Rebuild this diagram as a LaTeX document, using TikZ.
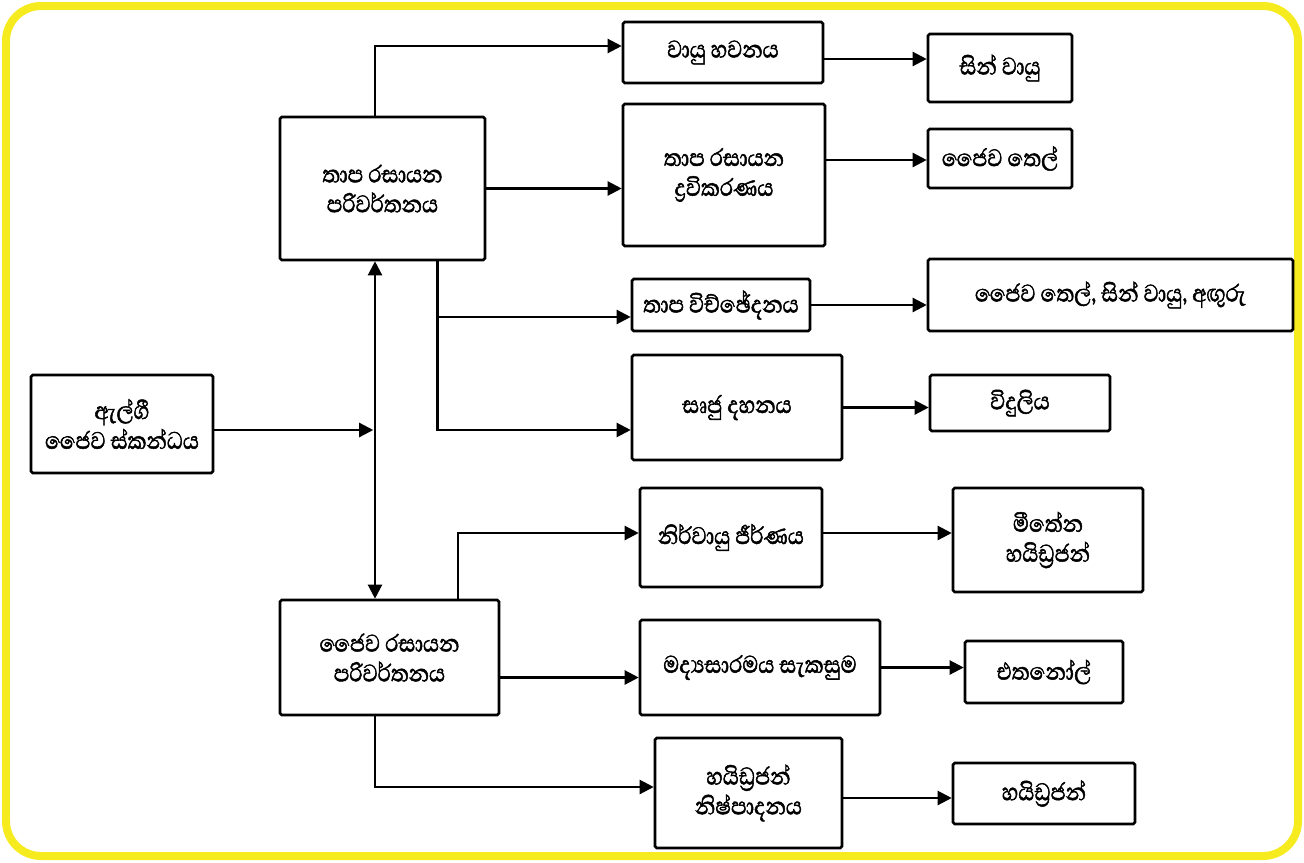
\documentclass[tikz,border=0pt]{standalone}
\usepackage{fontspec}
\usepackage{tikz}
\usetikzlibrary{calc,arrows.meta,positioning}
\newfontfamily\sinhala[Script=Sinhala, FakeBold=1.6, FakeStretch=0.86]{Abhaya Libre}
\definecolor{hl-yellow}{HTML}{F5EB1E}

\begin{document}
\begin{tikzpicture}[x=0.02cm, y=-0.02cm, line width=1.3pt, >={Triangle[length=8pt,width=8pt]},
    box/.style={draw, rectangle, line width=1.5pt, rounded corners=1pt, align=center, inner sep=2pt,
                font=\sinhala\fontsize{17.5}{17}\selectfont}]
    \useasboundingbox (0,0) rectangle (1304,862);
    \draw[hl-yellow, line width=0.16cm, rounded corners=0.7cm, fill=white] (6,6) rectangle (1298,856);

    \node[box, minimum width=3.64cm, minimum height=1.96cm] (algae) at (122,424) {ඇල්ගී\\ජෛව ස්කන්ධය};
    \node[box, minimum width=4.10cm, minimum height=2.86cm] (thermo) at (382.5,188.5) {තාප රසායන\\පරිවර්තනය};
    \node[box, minimum width=4.38cm, minimum height=2.30cm] (bio) at (389.5,657.5) {ජෛව රසායන\\පරිවර්තනය};

    \node[box, minimum width=4.00cm, minimum height=1.22cm] (gasif) at (723,52.5) {වායු හවනය};
    \node[box, minimum width=4.04cm, minimum height=2.84cm] (liquef) at (724,175) {තාප රසායන\\ද්‍රවිකරණය};
    \node[box, minimum width=3.56cm, minimum height=1.04cm] (pyro) at (721,305) {තාප විච්ඡේදනය};
    \node[box, minimum width=4.20cm, minimum height=2.10cm] (direct) at (737,407.5) {සෘජු දහනය};
    \node[box, minimum width=3.64cm, minimum height=1.98cm] (anaer) at (731,537.5) {නිර්වායු ජීර්ණය};
    \node[box, minimum width=4.80cm, minimum height=1.90cm] (ferm) at (760,667.5) {මද්‍යසාරමය සැකසුම};
    \node[box, minimum width=3.74cm, minimum height=2.20cm] (hprod) at (748.5,793) {හයිඩ්‍රජන්\\නිෂ්පාදනය};

    \node[box, minimum width=2.88cm, minimum height=1.36cm] (syngas) at (1000,68) {සින් වායු};
    \node[box, minimum width=2.88cm, minimum height=1.18cm] (biooil) at (1000,158.5) {ජෛව තෙල්};
    \node[box, minimum width=7.30cm, minimum height=1.44cm] (mixprod) at (1110.5,295) {ජෛව තෙල්, සින් වායු, අඟුරු};
    \node[box, minimum width=3.60cm, minimum height=1.12cm] (power) at (1020,403) {විදුලිය};
    \node[box, minimum width=3.80cm, minimum height=2.08cm] (methane) at (1048,540) {මීතේන\\හයිඩ්‍රජන්};
    \node[box, minimum width=3.16cm, minimum height=1.24cm] (ethanol) at (1044,672) {එතනෝල්};
    \node[box, minimum width=3.64cm, minimum height=1.22cm] (hydrogen) at (1044,793.5) {හයිඩ්‍රජන්};

    \coordinate (trunk) at (375,430);
    \coordinate (tsplit) at ([xshift=1.1cm]thermo.south);
    \coordinate (bsplit) at ([xshift=1.37cm]bio.north);
    \coordinate (pyroin) at ([yshift=-0.24cm]pyro.west);

    \draw[<->] (thermo.south -| trunk) -- (bio.north -| trunk);
    \draw[->] (algae.east |- trunk) -- ([xshift=-1pt]trunk);

    \draw[->] (thermo.north -| trunk) |- ([yshift=0.13cm]gasif.west);
    \draw[->] (thermo.east) -- (thermo.east -| liquef.west);
    \draw[->] (tsplit) |- ([yshift=-0.45cm]direct.west);
    \draw[->] (tsplit |- pyroin) -- (pyroin);

    \draw[->] (bsplit) |- ([yshift=0.09cm]anaer.west);
    \draw[->] ([yshift=-0.4cm]bio.east) -- ([yshift=-0.4cm]bio.east -| ferm.west);
    \draw[->] (bio.south -| trunk) |- ([yshift=0.12cm]hprod.west);

    \draw[->] ([yshift=-0.13cm]gasif.east) -- ([yshift=-0.13cm]gasif.east -| syngas.west);
    \draw[->] ([yshift=0.3cm]liquef.east) -- ([yshift=0.3cm]liquef.east -| biooil.west);
    \draw[->] (pyro.east) -- (pyro.east -| mixprod.west);
    \draw[->] (direct.east) -- (direct.east -| power.west);
    \draw[->] ([yshift=0.09cm]anaer.east) -- ([yshift=0.09cm]anaer.east -| methane.west);
    \draw[->] (ferm.east) -- (ferm.east -| ethanol.west);
    \draw[->] ([yshift=-0.1cm]hprod.east) -- ([yshift=-0.1cm]hprod.east -| hydrogen.west);
\end{tikzpicture}
\end{document}
